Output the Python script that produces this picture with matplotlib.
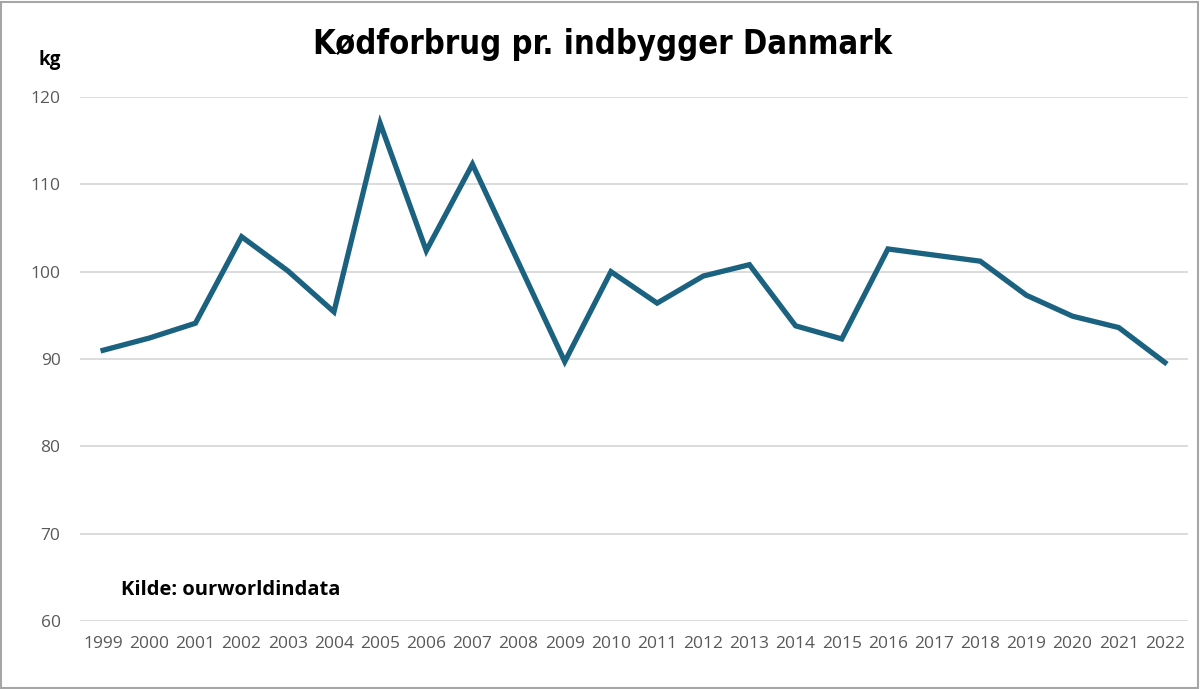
import numpy as np
import matplotlib.pyplot as plt
from matplotlib.patches import Rectangle

# Data
years = [str(y) for y in range(1999, 2023)]
kg_per_person = [91.0, 92.4, 94.1, 104.0, 100.1, 95.4, 117.0, 102.4, 112.3, 101.0,
                 89.7, 100.0, 96.4, 99.5, 100.8, 93.8, 92.3, 102.6, 101.9, 101.2,
                 97.3, 94.9, 93.6, 89.6]
y_ticks = [60, 70, 80, 90, 100, 110, 120]

plt.rcParams['font.family'] = ['Open Sans', 'DejaVu Sans']

fig = plt.figure(figsize=(12, 6.89), dpi=100)
ax = fig.add_axes([0.0667, 0.0987, 0.9233, 0.7605])

x = np.arange(len(years))
ax.plot(x, kg_per_person, color="#1b6180", linewidth=3.8, solid_joinstyle="miter", zorder=3)

ax.set_xlim(-0.5, len(years) - 0.5)
ax.set_ylim(60, 120)
ax.set_yticks(y_ticks)
ax.set_xticks(x)
ax.set_xticklabels(years)
ax.tick_params(axis="both", length=0, colors="#595959", labelsize=12.5)
ax.tick_params(axis="y", pad=14)
ax.tick_params(axis="x", pad=11)

ax.grid(axis="y", color="#d9d9d9", linewidth=1.3)
ax.set_axisbelow(True)
for s in ax.spines.values():
    s.set_visible(False)

fig.text(0.502, 0.935, "Kødforbrug pr. indbygger Danmark", ha="center", va="center",
         fontsize=23.5, fontweight="bold", fontstretch="condensed", color="black",
         family=['DejaVu Sans'])
fig.text(0.041, 0.913, "kg", ha="center", va="center", fontsize=13.5, fontweight="bold")
fig.text(0.101, 0.143, "Kilde: ourworldindata", ha="left", va="center",
         fontsize=14.5, fontweight="bold")

# Frame around the picture
fig.patches.append(Rectangle((0.001, 0.002), 0.997, 0.995, transform=fig.transFigure,
                             fill=False, edgecolor="#a6a6a6", linewidth=1.5))

fig.savefig("out.png", dpi=100)
